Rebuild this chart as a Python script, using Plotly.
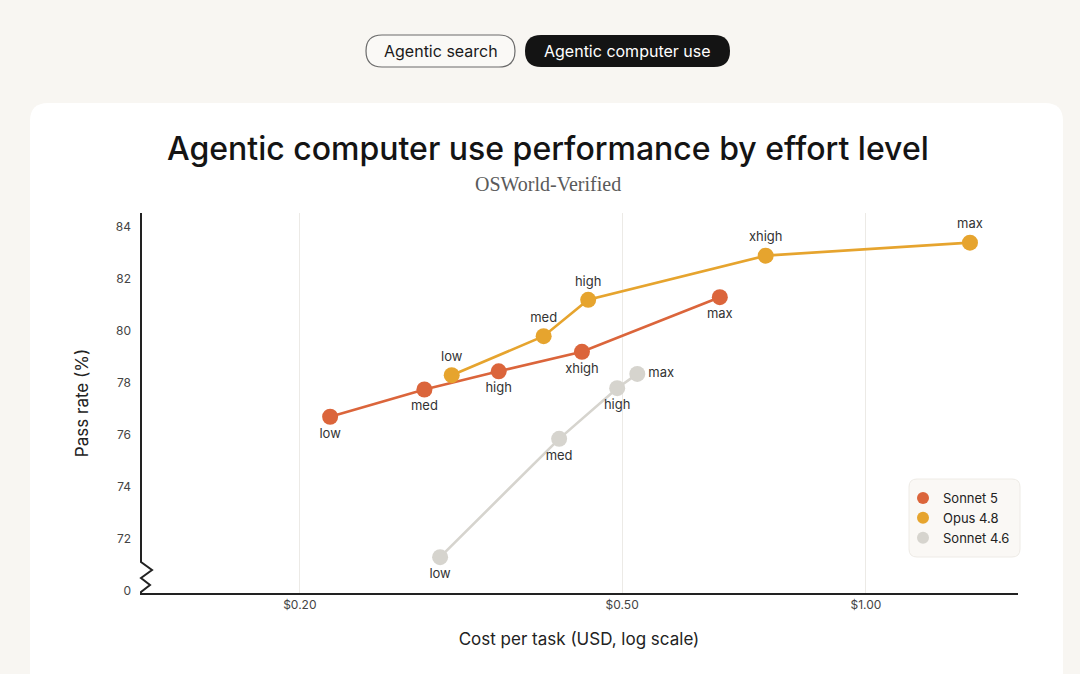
import plotly.graph_objects as go

# ---------------- data ----------------
levels_s5 = ["low", "med", "high", "xhigh", "max"]
cost_s5 = [0.218, 0.285, 0.352, 0.446, 0.660]
pass_s5 = [76.7, 77.75, 78.45, 79.2, 81.3]

levels_o48 = ["low", "med", "high", "xhigh", "max"]
cost_o48 = [0.308, 0.400, 0.454, 0.752, 1.344]
pass_o48 = [78.3, 79.8, 81.2, 82.9, 83.4]

levels_s46 = ["low", "med", "high", "max"]
cost_s46 = [0.298, 0.418, 0.493, 0.522]
pass_s46 = [71.3, 75.85, 77.8, 78.35]

x_tickvals = [0.2, 0.5, 1.0]
x_ticktext = ["$0.20", "$0.50", "$1.00"]
y_tickvals = [70, 72, 74, 76, 78, 80, 82, 84]
y_ticktext = ["0", "72", "74", "76", "78", "80", "82", "84"]

# ---------------- layout geometry ----------------
W, H = 1080, 674
L, R, T, B = 140, 1018, 213, 593

def px(x):
    return (x - L) / (R - L)

def py(y):
    return (B - y) / (B - T)

def rrect(x0, y0, x1, y1, r):
    pts = [
        f"M {px(x0 + r)},{py(y0)}",
        f"L {px(x1 - r)},{py(y0)}",
        f"Q {px(x1)},{py(y0)} {px(x1)},{py(y0 + r)}",
        f"L {px(x1)},{py(y1 - r)}",
        f"Q {px(x1)},{py(y1)} {px(x1 - r)},{py(y1)}",
        f"L {px(x0 + r)},{py(y1)}",
        f"Q {px(x0)},{py(y1)} {px(x0)},{py(y1 - r)}",
        f"L {px(x0)},{py(y0 + r)}",
        f"Q {px(x0)},{py(y0)} {px(x0 + r)},{py(y0)}",
        "Z",
    ]
    return " ".join(pts)

C_S5 = "#DB653B"
C_O48 = "#E6A42E"
C_S46 = "#D6D4CE"
FONT = "Inter, Roboto, sans-serif"
LBL = dict(family=FONT, size=13, color="#333333")

fig = go.Figure()

series = [
    ("Sonnet 5", cost_s5, pass_s5, levels_s5, C_S5,
     ["bottom center"] * 5),
    ("Opus 4.8", cost_o48, pass_o48, levels_o48, C_O48,
     ["top center"] * 5),
    ("Sonnet 4.6", cost_s46, pass_s46, levels_s46, C_S46,
     ["bottom center", "bottom center", "bottom center", "middle right"]),
]

for name, xs, ys, labels, col, pos in series:
    fig.add_trace(go.Scatter(
        x=xs, y=ys, mode="lines", line=dict(color=col, width=2.6),
        showlegend=False, hoverinfo="skip"))

for name, xs, ys, labels, col, pos in series:
    fig.add_trace(go.Scatter(
        x=xs, y=ys, mode="markers+text", name=name,
        marker=dict(color=col, size=16, line=dict(width=0)),
        text=labels, textposition=pos, textfont=LBL))

shapes = []
# card
shapes.append(dict(type="path", xref="paper", yref="paper",
                   path=rrect(30, 103, 1063, 760, 18),
                   fillcolor="#FFFFFF", line=dict(width=0), layer="below"))
# pills
shapes.append(dict(type="path", xref="paper", yref="paper",
                   path=rrect(366, 35, 515, 67, 16),
                   fillcolor="#FAF9F6", line=dict(color="#6B6B6B", width=1.2),
                   layer="below"))
shapes.append(dict(type="path", xref="paper", yref="paper",
                   path=rrect(525, 35, 730, 67, 16),
                   fillcolor="#141414", line=dict(width=0), layer="below"))
# legend box
shapes.append(dict(type="path", xref="paper", yref="paper",
                   path=rrect(909, 479, 1020, 557, 8),
                   fillcolor="#FAF8F5", line=dict(color="#EEEBE6", width=1),
                   layer="below"))
# y axis line with break zigzag
zz = [(141, T), (141, 562), (152, 570), (141, 578), (150, 585), (141, 592), (141, B)]
zpath = "M " + " L ".join(f"{px(a)},{py(b)}" for a, b in zz)
shapes.append(dict(type="path", xref="paper", yref="paper", path=zpath,
                   line=dict(color="#222222", width=2), layer="above"))

def ann(text, x, y, font):
    return dict(text=text, x=px(x), y=py(y), xref="paper", yref="paper",
                xanchor="center", yanchor="middle", showarrow=False, font=font)

annotations = [
    ann("Agentic search", 440.5, 51, dict(family=FONT, size=16, color="#1A1A1A")),
    ann("Agentic computer use", 627.5, 51, dict(family=FONT, size=16, color="#FFFFFF")),
    ann("Agentic computer use performance by effort level", 548, 148,
        dict(family=FONT, size=32, color="#141414", weight=500)),
    ann("OSWorld-Verified", 548, 184,
        dict(family="Liberation Serif, DejaVu Serif, serif", size=20, color="#5A5A5A")),
]

fig.update_layout(
    width=W, height=H,
    margin=dict(l=L, r=W - R, t=T, b=H - B, autoexpand=False),
    paper_bgcolor="#F8F6F2",
    plot_bgcolor="rgba(0,0,0,0)",
    shapes=shapes,
    annotations=annotations,
    showlegend=True,
    legend=dict(x=px(903), y=py(483), xanchor="left", yanchor="top",
                bgcolor="rgba(0,0,0,0)", borderwidth=0,
                font=dict(family=FONT, size=13, color="#222222"),
                itemsizing="constant", tracegroupgap=0, itemwidth=30),
    xaxis=dict(type="log", range=[-0.8963, 0.1877],
               tickvals=x_tickvals, ticktext=x_ticktext,
               showgrid=True, gridcolor="#ECEAE6", gridwidth=1,
               showline=True, linecolor="#222222", linewidth=2,
               ticks="", zeroline=False,
               tickfont=dict(family=FONT, size=12, color="#444444"),
               title=dict(text="Cost per task (USD, log scale)", standoff=22,
                          font=dict(family=FONT, size=17, color="#222222")),
               automargin=False),
    yaxis=dict(range=[69.92, 84.54], tickvals=y_tickvals, ticktext=y_ticktext,
               showgrid=False, showline=False, zeroline=False, ticks="",
               ticklabelstandoff=8,
               tickfont=dict(family=FONT, size=12, color="#444444"),
               title=dict(text="Pass rate (%)", standoff=22,
                          font=dict(family=FONT, size=17, color="#222222")),
               automargin=False),
)

fig.write_html("out.html")
